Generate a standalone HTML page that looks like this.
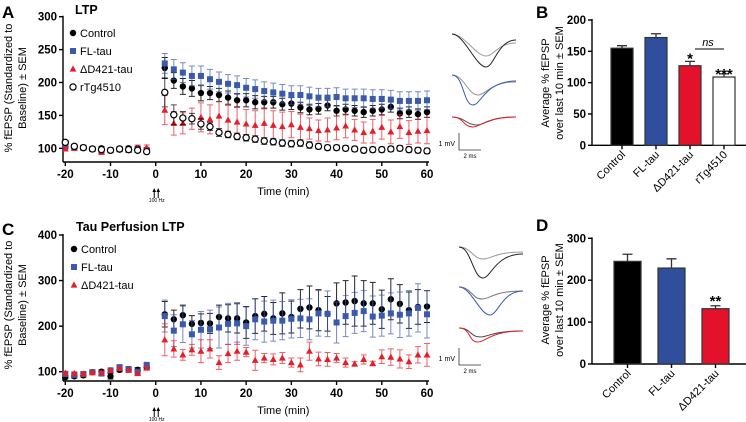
<!DOCTYPE html>
<html><head><meta charset="utf-8"><style>
html,body{margin:0;padding:0;background:#fff;}
svg{display:block;font-family:"Liberation Sans",Arial,sans-serif;}
</style></head><body>
<svg id="fig" width="746" height="422" viewBox="0 0 746 422"></svg>
<script>
// ---------- Panel A data ----------
const timesA = [-20,-18,-16,-14,-12,-10,-8,-6,-4,-2,2,4,6,8,10,12,14,16,18,20,22,24,26,28,30,32,34,36,38,40,42,44,46,48,50,52,54,56,58,60];
const ctrlA = [102,103,101,99,100,97,98,100,100,98,222,203,194,191,184,184,181,177,173,173,170,170,170,167,168,162,159,160,165,157,159,157,155,157,159,163,153,155,152,155];
const ctrlAerr = [3,3,3,3,3,3,3,3,3,3,16,12,12,12,12,10,10,10,10,10,10,9,9,9,9,8,8,8,8,8,8,8,8,8,8,8,8,8,8,8];
const flA = [104,102,101,99,96,97,99,98,98,97,229,220,215,210,210,205,201,198,196,192,190,187,185,183,181,181,179,177,177,178,176,176,176,175,175,174,172,172,172,173];
const flAerr = [3,3,3,3,3,3,3,3,3,3,15,15,15,15,15,15,15,14,14,14,14,14,14,14,14,14,14,14,14,14,14,14,14,14,14,14,14,14,14,14];
const dAA = [99,100,101,99,94,97,99,97,100,101,158,138,138,145,147,144,149,143,140,137,135,138,135,133,136,132,130,127,128,131,134,128,124,126,132,125,133,124,126,127];
const dAAerr = [3,3,3,3,3,3,3,3,5,4,22,18,16,16,22,22,22,22,22,22,22,22,22,22,20,20,16,16,18,18,18,16,16,18,18,18,18,18,18,20];
const rtgA = [109,103,101,99,98,97,99,98,97,95,185,151,146,145,137,133,124,121,118,116,114,111,110,108,107,108,105,103,101,101,100,99,97,98,98,99,100,98,97,96];
const rtgAerr = [3,3,3,3,3,3,3,3,3,3,22,15,10,8,8,6,6,5,5,5,5,5,5,5,5,5,5,4,4,4,4,4,4,4,4,4,4,4,4,4];
// ---------- Panel C data ----------
const timesC = timesA;
const ctrlC = [88,90,92,99,100,90,104,105,104,110,226,215,224,205,207,206,220,217,217,208,222,227,217,228,220,238,241,235,227,250,252,255,250,250,237,259,249,235,242,243];
const ctrlCerr = [4,4,4,4,4,6,4,4,5,5,28,20,22,18,20,22,26,30,32,35,38,38,35,45,35,42,47,45,38,45,48,55,50,46,42,45,42,40,38,35];
const flC = [95,93,95,99,96,103,110,106,100,115,222,190,204,182,192,193,197,205,206,200,215,210,212,212,216,217,215,228,227,208,222,229,233,221,223,228,225,228,240,226];
const flCerr = [4,4,4,4,4,4,4,4,5,4,35,35,40,30,40,42,45,45,46,42,45,45,45,42,42,42,45,50,50,45,45,45,45,45,45,45,50,50,53,52];
const dAC = [97,96,95,98,97,103,107,103,96,108,170,150,137,148,145,150,120,140,145,143,125,130,127,130,120,115,145,128,127,130,120,117,127,118,133,132,128,122,137,137];
const dACerr = [4,4,4,4,4,4,4,4,4,4,35,18,12,12,25,20,15,20,20,10,22,10,12,12,10,15,20,15,15,10,10,5,10,5,15,18,20,15,18,25];
// ---------- Bar data ----------
const barCatsB = ["Control","FL-tau","ΔD421-tau","rTg4510"];
const barValsB = [155,172,127,109];
const barErrB = [4,6,7,5];
const barCatsD = ["Control","FL-tau","ΔD421-tau"];
const barValsD = [245,229,132];
const barErrD = [17,22,7];

const svg = document.getElementById('fig');
const NS = 'http://www.w3.org/2000/svg';
function mk(tag, attrs, parent, text){
  const e = document.createElementNS(NS, tag);
  for (const k in attrs) e.setAttribute(k, attrs[k]);
  if (text !== undefined) e.textContent = text;
  (parent || svg).appendChild(e);
  return e;
}
function txt(x,y,s,size,weight,anchor,parent){
  return mk('text',{x:x,y:y,'font-size':size,'font-weight':weight||'normal','text-anchor':anchor||'start',fill:'#000'},parent,s);
}

const BLACK='#000', BLUE='#3a5aad', RED='#e61e2a';

function marker(g, kind, x, y, color){
  let m;
  if (kind==='circle') m = mk('circle',{cx:x,cy:y,r:3.2,fill:color},g);
  else if (kind==='square') m = mk('rect',{x:x-3,y:y-3,width:6,height:6,fill:color},g);
  else if (kind==='tri') m = mk('polygon',{points:`${x},${y-3.6} ${x+3.4},${y+2.6} ${x-3.4},${y+2.6}`,fill:color},g);
  else m = mk('circle',{cx:x,cy:y,r:3.1,fill:'#fff',stroke:color,'stroke-width':1.2},g);
  return m;
}

function linePanel(cfg){
  const g = mk('g',{});
  
  
  const sx = t => cfg.x0 + (t - (-20)) * (cfg.x1 - cfg.x0) / 80;
  const sy = v => cfg.y0 + (v - cfg.ymin) * (cfg.y1 - cfg.y0) / (cfg.ymax - cfg.ymin);
  const ax = mk('g',{},g);
  
  
  mk('line',{x1:cfg.ax,y1:sy(cfg.ymax)-1,x2:cfg.ax,y2:cfg.xaxisY,stroke:'#000','stroke-width':1.4},ax);
  cfg.yticks.forEach(v=>{
    mk('line',{x1:cfg.ax-4,y1:sy(v),x2:cfg.ax,y2:sy(v),stroke:'#000','stroke-width':1.4},ax);
    txt(cfg.ax-6,sy(v)+4,String(v),11.5,'bold','end',ax);
  });
  const xa = mk('g',{},g);
  
  
  mk('line',{x1:cfg.ax,y1:cfg.xaxisY,x2:sx(60)+2,y2:cfg.xaxisY,stroke:'#000','stroke-width':1.4},xa);
  [-20,-10,0,10,20,30,40,50,60].forEach(v=>{
    mk('line',{x1:sx(v),y1:cfg.xaxisY,x2:sx(v),y2:cfg.xaxisY+4,stroke:'#000','stroke-width':1.4},xa);
    txt(sx(v),cfg.xaxisY+16,String(v),11.5,'bold','middle',xa);
  });
  const xt = txt((sx(0)+sx(60))/2-8,cfg.xaxisY+33,'Time (min)',11,'normal','middle',g);
  
  
  const ar = mk('g',{},g);
  
  
  [sx(0)-1.5, sx(0)+2.5].forEach(x=>{
    mk('line',{x1:x,y1:cfg.xaxisY+36,x2:x,y2:cfg.xaxisY+29,stroke:'#000','stroke-width':1},ar);
    mk('polygon',{points:`${x},${cfg.xaxisY+26} ${x-1.8},${cfg.xaxisY+30} ${x+1.8},${cfg.xaxisY+30}`,fill:'#000'},ar);
  });
  txt(sx(0)+1,cfg.xaxisY+40,'100 Hz',5,'normal','middle',ar);
  const yt = mk('text',{transform:`translate(${cfg.ylx},${cfg.ylc}) rotate(-90)`,'font-size':11,'text-anchor':'middle'},g);
  
  
  mk('tspan',{x:0,y:0},yt,'% fEPSP (Standardized to');
  mk('tspan',{x:0,y:14},yt,'Baseline)  ± SEM');
  cfg.series.forEach(s=>{
    const sg = mk('g',{},g);
    
    
    cfg.times.forEach((t,i)=>{
      const x=sx(t), y=sy(s.vals[i]), e=s.err[i]*(cfg.y0-cfg.y1)/(cfg.ymax-cfg.ymin);
      const eb = mk('path',{d:`M${x},${y-e}V${y+e}M${x-3},${y-e}H${x+3}M${x-3},${y+e}H${x+3}`,stroke:s.color,'stroke-width':1,fill:'none','stroke-opacity':s.kind==='circle'?0.85:0.7},sg);
      
      
      const m = marker(sg, s.kind, x, y, s.color);
      
      
    });
  });
  const lg = mk('g',{},g);
  
  
  cfg.series.forEach((s,i)=>{
    const y = cfg.legY + i*cfg.legDy;
    const le = mk('g',{},lg);
    
    
    marker(le, s.kind, cfg.legX, y, s.color);
    txt(cfg.legX+7, y+4, s.label, 11, 'normal','start',le);
  });
  const tt = txt(cfg.titleX, cfg.titleY, cfg.title, 12.5, 'bold','start',g);
  
  
}

linePanel({name:'ltp-chart', x0:65.3, x1:427, ax:63, xaxisY:162, ymin:100, ymax:300, y0:148.3, y1:16.7,
  yticks:[100,150,200,250,300], times:timesA, ylx:12, ylc:88, legX:73, legY:33, legDy:18,
  title:'LTP', titleX:75, titleY:14,
  series:[
    {name:'series-control',label:'Control',kind:'circle',color:BLACK,vals:ctrlA,err:ctrlAerr},
    {name:'series-fl-tau',label:'FL-tau',kind:'square',color:BLUE,vals:flA,err:flAerr},
    {name:'series-d421-tau',label:'ΔD421-tau',kind:'tri',color:RED,vals:dAA,err:dAAerr},
    {name:'series-rtg4510',label:'rTg4510',kind:'open',color:BLACK,vals:rtgA,err:rtgAerr}
  ]});
linePanel({name:'tau-perfusion-ltp-chart', x0:65.3, x1:427, ax:63, xaxisY:381, ymin:100, ymax:400, y0:371.7, y1:235,
  yticks:[100,200,300,400], times:timesC, ylx:12, ylc:305, legX:74, legY:249, legDy:18,
  title:'Tau Perfusion LTP', titleX:76, titleY:231,
  series:[
    {name:'series-control',label:'Control',kind:'circle',color:BLACK,vals:ctrlC,err:ctrlCerr},
    {name:'series-fl-tau',label:'FL-tau',kind:'square',color:BLUE,vals:flC,err:flCerr},
    {name:'series-d421-tau',label:'ΔD421-tau',kind:'tri',color:RED,vals:dAC,err:dACerr}
  ]});

const barColors = ['#000','#2f4e9c','#e3122a','#fff'];
function barPanel(cfg){
  const g = mk('g',{});
  
  
  const sy = v => cfg.y0 - v*(cfg.y0-cfg.y1)/cfg.ymax;
  mk('line',{x1:cfg.ax,y1:sy(cfg.ymax)-1,x2:cfg.ax,y2:cfg.y0,stroke:'#000','stroke-width':1.4},g);
  mk('line',{x1:cfg.ax,y1:cfg.y0,x2:cfg.xend,y2:cfg.y0,stroke:'#000','stroke-width':1.4},g);
  cfg.yticks.forEach(v=>{
    mk('line',{x1:cfg.ax-4,y1:sy(v),x2:cfg.ax,y2:sy(v),stroke:'#000','stroke-width':1.4},g);
    txt(cfg.ax-6,sy(v)+4,String(v),11.5,'bold','end',g);
  });
  const yt = mk('text',{transform:`translate(${cfg.ylx},${cfg.ylc}) rotate(-90)`,'font-size':11,'text-anchor':'middle'},g);
  
  
  mk('tspan',{x:0,y:0},yt,'Average % fEPSP');
  mk('tspan',{x:0,y:14},yt,'over last 10 min  ± SEM');
  cfg.cats.forEach((c,i)=>{
    const x = cfg.bx0 + i*cfg.step, w = cfg.bw, cx = x + w/2;
    const top = sy(cfg.vals[i]), et = sy(cfg.vals[i]+cfg.err[i]);
    const eb = mk('path',{d:`M${cx},${top}V${et}M${cx-5},${et}H${cx+5}`,stroke:'#333','stroke-width':1.3,fill:'none'},g);
    
    
    const r = mk('rect',{x:x,y:top,width:w,height:cfg.y0-top,fill:barColors[i],stroke:'#333','stroke-width':1.2},g);
    
    
    mk('line',{x1:cx,y1:cfg.y0,x2:cx,y2:cfg.y0+4,stroke:'#000','stroke-width':1.4},g);
    const l = mk('text',{transform:`translate(${cx+4},${cfg.y0+10}) rotate(-45)`,'font-size':11,'text-anchor':'end'},g,c);
    
    
  });
  (cfg.sig||[]).forEach(s=>{
    const cx = cfg.bx0 + s.i*cfg.step + cfg.bw/2;
    const t = txt(cx, sy(cfg.vals[s.i]+cfg.err[s.i])+s.dy, s.t, 15, 'bold','middle',g);
    
    
  });
}
barPanel({name:'bar-chart-b', ax:592, y0:145.3, y1:20, ymax:200, xend:746, yticks:[0,50,100,150,200],
  cats:barCatsB, vals:barValsB, err:barErrB, bx0:611, bw:22, step:34, ylx:549, ylc:83,
  sig:[{i:2,t:'*',dy:2},{i:3,t:'***',dy:5}]});
barPanel({name:'bar-chart-d', ax:592, y0:364, y1:238.3, ymax:300, xend:746, yticks:[0,100,200,300],
  cats:barCatsD, vals:barValsD, err:barErrD, bx0:614, bw:27, step:44, ylx:549, ylc:300,
  sig:[{i:2,t:'**',dy:0}]});
mk('line',{x1:695,y1:49,x2:724,y2:49,stroke:'#000','stroke-width':1});
const ns = mk('text',{x:708,y:46,'font-size':11,'font-style':'italic','text-anchor':'middle'},svg,'ns');



[['A',2,18],['B',536,18],['C',2,235],['D',536,231]].forEach(p=>{
  const t = txt(p[1],p[2],p[0],17,'bold','start');
  
  
});

function trace(x0,yb,depth,minX,endY){
  return `M${x0},${yb} C${x0+12},${yb} ${minX-10},${yb+depth} ${minX},${yb+depth} C${minX+8},${yb+depth} ${minX+12},${endY} ${x0+64},${endY}`;
}
const tr = mk('g',{});


[
 [452,34,22,486,43,'#999'],[452,34,33,486,40,'#222'],
 [452,75,20,478,82,'#999'],[452,75,30,473,81,BLUE],
 [452,117,8,477,117,'#555'],[452,117,10,473,117,RED],
 [459,247,12,483,252,'#999'],[459,247,31,483,254,'#222'],
 [459,287,12,482,291,'#777'],[459,287,28,490,291,BLUE],
 [459,328,9,480,331,'#444'],[459,328,14,478,331,RED]
].forEach(a=>mk('path',{d:trace(a[0],a[1],a[2],a[3],a[4]),stroke:a[5],'stroke-width':1,fill:'none'},tr));
[150,365].forEach(y=>{
  mk('path',{d:`M459,${y-17}V${y}H481`,stroke:'#333','stroke-width':0.8,fill:'none'},tr);
  txt(455,y-4,'1 mV',7,'normal','end',tr);
  txt(470,y+8,'2 ms',6,'normal','middle',tr);
});
</script>
</body></html>
